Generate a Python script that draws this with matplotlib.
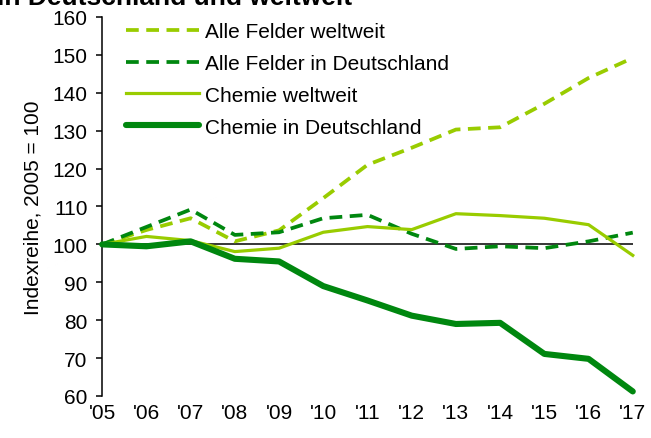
import matplotlib
matplotlib.use("Agg")
import matplotlib.pyplot as plt

plt.rcParams["font.family"] = ["Liberation Sans", "DejaVu Sans"]

years = ["'05", "'06", "'07", "'08", "'09", "'10", "'11", "'12", "'13", "'14", "'15", "'16", "'17"]

alle_welt = [100, 103.8, 106.9, 100.8, 103.7, 112.2, 121.0, 125.5, 130.3, 130.9, 137.1, 143.9, 149.2]
alle_de = [100, 104.6, 109.2, 102.5, 103.2, 106.9, 107.8, 102.8, 98.8, 99.5, 99.0, 100.8, 103.1]
chemie_welt = [100, 102.1, 101.0, 98.1, 99.0, 103.2, 104.7, 103.9, 108.1, 107.6, 106.9, 105.2, 97.1]
chemie_de = [100, 99.5, 100.8, 96.2, 95.5, 89.0, 85.2, 81.2, 79.0, 79.3, 71.1, 69.8, 61.2]

light = "#99cc00"
dark = "#00870f"

fig = plt.figure(figsize=(6.51, 4.39), dpi=100)
ax = fig.add_axes([0.157, 0.0957, 0.815, 0.8633])

x = list(range(len(years)))
ax.axhline(100, color="black", lw=1.1, zorder=1)

ax.plot(x, alle_welt, color=light, lw=2.7, dashes=(3.4, 2), label="Alle Felder weltweit", clip_on=False, zorder=2)
ax.plot(x, alle_de, color=dark, lw=2.7, dashes=(3.4, 2), label="Alle Felder in Deutschland", clip_on=False, zorder=3)
ax.plot(x, chemie_welt, color=light, lw=2.3, label="Chemie weltweit", clip_on=False, zorder=4)
ax.plot(x, chemie_de, color=dark, lw=4.4, solid_capstyle="round", label="Chemie in Deutschland", clip_on=False, zorder=5)

ax.set_xlim(0, 12)
ax.set_ylim(60, 160)
ax.set_yticks(range(60, 161, 10))
ax.set_xticks(x)
ax.set_xticklabels(years)
ax.tick_params(axis="x", length=0, pad=5, labelsize=15)
ax.tick_params(axis="y", length=4.5, width=1.1, direction="out", pad=6, labelsize=15)
for s in ["top", "right", "bottom"]:
    ax.spines[s].set_visible(False)
ax.spines["left"].set_linewidth(1.1)

ax.set_ylabel("Indexreihe, 2005 = 100", fontsize=15)
ax.yaxis.set_label_coords(-0.113, 0.5)

ax.legend(loc="upper left", bbox_to_anchor=(0.045, 0.987), frameon=False, fontsize=15,
          handlelength=3.5, handletextpad=0.3, labelspacing=0.62, borderpad=0, borderaxespad=0)

fig.text(-0.005, 0.988, "in Deutschland und weltweit", fontsize=19, fontweight="bold", va="baseline")

fig.savefig("out.png", dpi=100)
